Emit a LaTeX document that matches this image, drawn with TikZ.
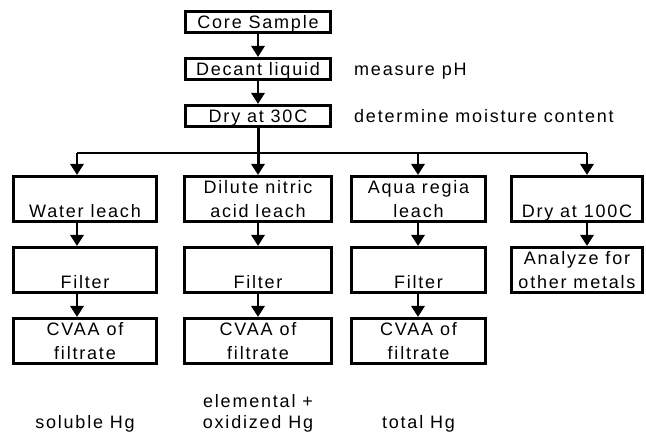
\documentclass[tikz,border=0pt]{standalone}
\usepackage{fontspec}
\setmainfont{Liberation Sans}[LetterSpace=10]
\usepackage{tikz}
\usetikzlibrary{positioning, arrows.meta}
\newcommand{\lst}{\vrule height 17pt depth 4pt width 0pt} % fixed line height
\tikzset{
every node/.style={font=\fontsize{18}{24}\selectfont, inner sep=0pt}, % all texts
box/.style={draw, line width=3pt, align=center, minimum height=21pt}, % one-line step
tall/.style={box, minimum height=45pt}, % two-line step
arr/.style={-{Triangle[width=13pt,length=11pt]}, line width=2.8pt}, % connectors
}

\begin{document}
\begin{tikzpicture}[x=1pt, y=-1pt]
    \useasboundingbox (0,0) rectangle (646,435);
    \node[box, minimum width=145pt] (core) at (258,22) {\lst Core Sample};
    \node[box, minimum width=145pt, below=23pt of core] (decant) {\lst Decant liquid};
    \node[box, minimum width=145pt, below=23pt of decant] (dry30) {\lst Dry at 30C};
    \node[right=22pt of decant] (ph) {\lst measure pH};
    \node[right=22pt of dry30] (moist) {\lst determine moisture content};
    % the four branches
    \node[tall, minimum width=143pt] (water) at (85,199) {\lst\\\lst Water leach};
    \node[tall, minimum width=143pt, below=23pt of water] (filt1) {\lst\\\lst Filter};
    \node[tall, minimum width=143pt, below=23pt of filt1] (cvaa1) {\lst CVAA of\\\lst filtrate};
    \node[tall, minimum width=147pt] (dilute) at (258,199) {\lst Dilute nitric\\\lst acid leach};
    \node[tall, minimum width=147pt, below=23pt of dilute] (filt2) {\lst\\\lst Filter};
    \node[tall, minimum width=147pt, below=23pt of filt2] (cvaa2) {\lst CVAA of\\\lst filtrate};
    \node[tall, minimum width=134pt] (aqua) at (418.5,199) {\lst Aqua regia\\\lst leach};
    \node[tall, minimum width=134pt, below=23pt of aqua] (filt3) {\lst\\\lst Filter};
    \node[tall, minimum width=134pt, below=23pt of filt3] (cvaa3) {\lst CVAA of\\\lst filtrate};
    \node[tall, minimum width=131pt] (dry100) at (577,199) {\lst\\\lst Dry at 100C};
    \node[tall, minimum width=131pt, below=23pt of dry100] (metals) {\lst Analyze for\\\lst other metals};
    % results
    \node[anchor=south] (sol) at (85,432.5) {\lst soluble Hg};
    \node[anchor=south, align=center] (elem) at (258,432.5) {\lst elemental +\\[-3pt]\lst oxidized Hg};
    \node[anchor=south] (tot) at (418.5,432.5) {\lst total Hg};
    % connectors
    \coordinate (b1) at (77,153);
    \coordinate (b3) at (418,153);
    \coordinate (b4) at (587,153);
    \draw[arr] (core) -- (decant);
    \draw[arr] (decant) -- (dry30);
    \draw[line width=1.3pt] (b1) -- (b4);
    \draw[arr, line width=3pt] (dry30) -- (dilute);
    \foreach \b/\n in {b1/water, b3/aqua, b4/dry100}
        \draw[arr] (\b) -- (\b |- \n.north);
    \draw[arr] (water.south -| b1) -- (filt1.north -| b1);
    \draw[arr] (filt1.south -| b1) -- (cvaa1.north -| b1);
    \draw[arr] (dilute) -- (filt2);
    \draw[arr] (filt2) -- (cvaa2);
    \draw[arr] (aqua.south -| b3) -- (filt3.north -| b3);
    \draw[arr] (filt3.south -| b3) -- (cvaa3.north -| b3);
    \draw[arr] (dry100.south -| b4) -- (metals.north -| b4);
\end{tikzpicture}
\end{document}
